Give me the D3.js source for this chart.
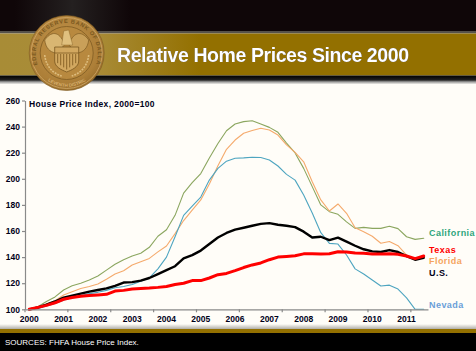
<!doctype html>
<meta charset="utf-8">
<style>
html, body { margin: 0; padding: 0; background: #fffdf8; }
svg { display: block; font-family: "Liberation Sans", Arial, sans-serif; }
.axis text { font-size: 8.5px; font-weight: bold; fill: #000018; font-family: "Liberation Sans", Arial, sans-serif; }
.axis path, .axis line { stroke: #8a8a8a; stroke-width: 1.2px; }
.series { fill: none; stroke-linejoin: round; stroke-linecap: round; }
.label { font-size: 9px; font-weight: bold; letter-spacing: 0.45px; }
</style>
<div id="chart"></div>
<script src="https://d3js.org/d3.v7.min.js"></script>
<script>
  // quarterly, 2000Q1 to 2011Q3
  const years = [2000,2001,2002,2003,2004,2005,2006,2007,2008,2009,2010,2011];
  const yTicks = [100,120,140,160,180,200,220,240,260];

  const california = [100,102,106,109.5,114.8,118,120,122.5,125.5,130,134.5,138,140.8,143,147.5,156,161,172,189,197,204,216,227,236.8,242,243.8,244.5,242,239.4,235.6,227.4,219.8,208,194,180,174.8,172.8,167,162,162.8,162,162,163.6,161.8,155.6,153.6,154.4];
  const florida = [100,101.5,104,106.5,111,113.5,116,117.5,119.4,123,127,129.5,134,136.5,139,144,148.5,158,168,176,183.8,196,210,222.6,229.7,234.9,237,238.7,237.4,233.5,226,220.3,213,197.8,183.8,175.3,180.7,173.6,162.5,159.5,156,150.6,152,148.7,141.6,137.8,139.8];
  const nevada = [99.5,100.5,102.5,104.5,107,109,110.5,112,113,114.5,116.5,117.5,119,121.5,124,131,140,155.6,172,179,186,199,208,213.5,215.7,216,216.5,216.3,214.4,209.8,203.4,199,187.6,173.8,158.7,150.5,150,141.6,131,127,122.5,117.8,118.5,115.5,108.7,100,100];
  const us = [100,101.5,103.5,106,109,110.5,112,113.5,114.8,116,118,120.5,120.8,122,124,127,130,133,139,141.5,145,150,155,158.5,161,162.5,164,165.5,166,164.8,164,163,159.5,155,155.6,153,154.9,151.8,148.7,146,144.4,143.9,145.4,143.9,140.8,138,139.5];
  const texas = [100,101.5,103,105,107.7,109,110,110.5,111,111.5,114,114.5,115.5,116,116.3,116.8,117.5,119,120,122,122,124,126.5,127.5,129.6,132,134,135.5,138,140,140.5,141,142.5,142.5,142.4,142.6,144.1,143.9,143.1,142.9,142.4,142.4,142.6,142.1,140.8,138.8,140.8];

  const quarters = [];
  years.forEach(y => [1,2,3,4].forEach(q => quarters.push(y + "Q" + q)));
  quarters.length = california.length;

  const width = 476, height = 351;
  const svg = d3.select("#chart").append("svg").attr("width", width).attr("height", height);
  const defs = svg.append("defs");

  function gradient(id, stops, horizontal) {
    const g = defs.append("linearGradient").attr("id", id);
    if (!horizontal) g.attr("x1", 0).attr("x2", 0).attr("y1", 0).attr("y2", 1);
    stops.forEach(s => g.append("stop").attr("offset", s[0]).attr("stop-color", s[1]));
  }
  gradient("band", [[0,"#a88c36"],[0.2,"#a98c38"],[0.42,"#937000"],[1,"#937000"]], true);
  gradient("sheen", [[0,"#0f0608"],[0.5,"#242020"],[1,"#0f0608"]], true);
  gradient("under", [[0,"#000"],[0.5,"#222"],[0.7,"#999"],[1,"#fffdf8"]]);
  gradient("foot", [[0,"#fffdf8"],[1,"#b0aea8"]]);

  const coin = defs.append("radialGradient").attr("id", "coin").attr("cx", 0.45).attr("cy", 0.4).attr("r", 0.7);
  coin.append("stop").attr("offset", 0).attr("stop-color", "#c0924a");
  coin.append("stop").attr("offset", 0.7).attr("stop-color", "#ad7f38");
  coin.append("stop").attr("offset", 1).attr("stop-color", "#8a6224");

  // header
  svg.append("rect").attr("width", width).attr("height", 32).attr("fill", "#0f0608");
  svg.append("rect").attr("x", 15).attr("width", 115).attr("height", 31).attr("fill", "url(#sheen)");
  svg.append("rect").attr("y", 31).attr("width", width).attr("height", 2.5).attr("fill", "#55514a");
  svg.append("rect").attr("y", 33.5).attr("width", width).attr("height", 42).attr("fill", "url(#band)");
  svg.append("rect").attr("y", 75.5).attr("width", width).attr("height", 9).attr("fill", "url(#under)");

  // seal
  const seal = svg.append("g").attr("transform", "translate(66.7,53)");
  seal.append("circle").attr("r", 37.5).attr("fill", "url(#coin)").attr("stroke", "#7d5a22").attr("stroke-width", 0.6);
  seal.append("circle").attr("r", 35.5).attr("fill", "none").attr("stroke", "#d0a868").attr("stroke-width", 0.8);
  seal.append("circle").attr("r", 26.5).attr("fill", "#b8893f").attr("stroke", "#7d5a22").attr("stroke-width", 0.8);
  defs.append("path").attr("id", "sealArc").attr("d", "M-29,12 A31,31 0 1 1 29,12");
  defs.append("path").attr("id", "sealArcLow").attr("d", "M-20,27 A33,33 0 0 0 20,27");
  seal.append("text").attr("font-size", 5.6).attr("font-weight", "bold").attr("fill", "#7a5820").attr("letter-spacing", 0.7)
    .append("textPath").attr("href", "#sealArc").attr("startOffset", "50%").attr("text-anchor", "middle").text("FEDERAL RESERVE BANK OF DALLAS");
  seal.append("text").attr("font-size", 4.5).attr("font-weight", "bold").attr("fill", "#d8b070")
    .append("textPath").attr("href", "#sealArcLow").attr("startOffset", "50%").attr("text-anchor", "middle").text("ELEVENTH DISTRICT");
  // wings, shield and stripes
  seal.append("path").attr("d", "M-2,-8 C-6,-20 -14,-24 -22,-13 C-21,-5 -17,-1 -11,0 Z").attr("fill", "#d9b672").attr("stroke", "#7d5a22").attr("stroke-width", 0.7);
  seal.append("path").attr("d", "M2,-8 C6,-20 14,-24 22,-13 C21,-5 17,-1 11,0 Z").attr("fill", "#c9a059").attr("stroke", "#7d5a22").attr("stroke-width", 0.7);
  seal.append("path").attr("d", "M-3,-22 L2,-23 L6,-8 L-5,-8 Z").attr("fill", "#e0c07e").attr("stroke", "#7d5a22").attr("stroke-width", 0.4);
  seal.append("path").attr("d", "M-12,-6 L12,-6 L12,8 C12,14 5,17 0,19 C-5,17 -12,14 -12,8 Z").attr("fill", "#d2a860").attr("stroke", "#6f4e18").attr("stroke-width", 0.7);
  d3.range(-9, 11, 3).forEach(s => {
    seal.append("line").attr("x1", s).attr("x2", s).attr("y1", 1).attr("y2", 16.5 - Math.abs(s) * 0.7).attr("stroke", "#8a6428").attr("stroke-width", 1);
  });
  seal.append("line").attr("x1", -12).attr("x2", 12).attr("y1", 0).attr("y2", 0).attr("stroke", "#7d5a22").attr("stroke-width", 0.8);
  // laurel on both sides of the shield
  seal.append("path").attr("d", "M-22,2 C-21,12 -15,20 -5,23 M22,2 C21,12 15,20 5,23").attr("fill", "none").attr("stroke", "#dcbb7c").attr("stroke-width", 1.6).attr("stroke-dasharray", "2 1");

  svg.append("text").attr("x", 117).attr("y", 62).attr("font-size", 19.5).attr("font-weight", "bold").attr("fill", "#fff")
    .style("filter", "drop-shadow(0.8px 0.8px 0.5px #2c2a40)").attr("textLength", 292).text("Relative Home Prices Since 2000");

  // plot
  const x = d3.scaleBand().domain(quarters).range([25, 428]);
  const y = d3.scaleLinear().domain([100, 260]).range([309.3, 100.5]);

  const line = d3.line().x((d, i) => x(quarters[i]) + x.bandwidth() / 2).y(d => y(d));

  const seriesList = [
    [california, "#8ba65f", 1.1],
    [florida, "#f5aa6c", 1.1],
    [nevada, "#4ea5c0", 1.1],
    [us, "#000", 2.4],
    [texas, "#ff0000", 3]
  ];
  seriesList.forEach(s => {
    svg.append("path").attr("class", "series").attr("d", line(s[0])).attr("stroke", s[1]).attr("stroke-width", s[2]);
  });

  const yAxis = d3.axisLeft(y).tickValues(yTicks).tickSize(3).tickSizeOuter(0);
  svg.append("g").attr("class", "axis").attr("transform", "translate(25,0)").call(yAxis)
    .call(g => g.selectAll("text").attr("x", -5));

  // tick marks every fifth quarter on the band edges, labels every fourth at band centres
  const xTicks = d3.axisBottom(x).tickValues(quarters.filter((d, i) => i % 5 === 0)).tickSize(3).tickSizeOuter(0).tickFormat("");
  svg.append("g").attr("class", "axis").attr("transform", "translate(" + (-x.bandwidth() / 2) + ",309.3)").call(xTicks)
    .call(g => g.select(".domain").remove());
  const xLabels = d3.axisBottom(x).tickValues(quarters.filter(d => d.endsWith("Q1"))).tickSize(0).tickSizeOuter(0).tickFormat(d => d.slice(0, 4));
  svg.append("g").attr("class", "axis").attr("transform", "translate(0,309.3)").call(xLabels)
    .call(g => g.selectAll("text").attr("y", 7));

  svg.append("text").attr("x", 29).attr("y", 107).attr("font-size", 8.5).attr("font-weight", "bold").attr("fill", "#000018").attr("letter-spacing", 0.35).text("House Price Index, 2000=100");

  const labels = ["California", "Texas", "Florida", "U.S.", "Nevada"];
  const labelColors = ["#2fa57c", "#ff0000", "#f5a45e", "#000018", "#6a9fd8"];
  const labelValues = [156.2, 143.5, 134.7, 125.5, 101];
  labels.forEach((t, i) => {
    svg.append("text").attr("class", "label").attr("x", 429).attr("y", y(labelValues[i])).attr("fill", labelColors[i]).text(t);
  });

  // footer
  svg.append("rect").attr("y", 324).attr("width", width).attr("height", 5).attr("fill", "url(#foot)");
  svg.append("rect").attr("y", 329).attr("width", width).attr("height", 4).attr("fill", "#937000");
  svg.append("rect").attr("y", 333).attr("width", width).attr("height", 18).attr("fill", "#000");
  svg.append("text").attr("x", 5).attr("y", 345).attr("font-size", 8).attr("fill", "#fff").text("SOURCES: FHFA House Price Index.");
</script>
